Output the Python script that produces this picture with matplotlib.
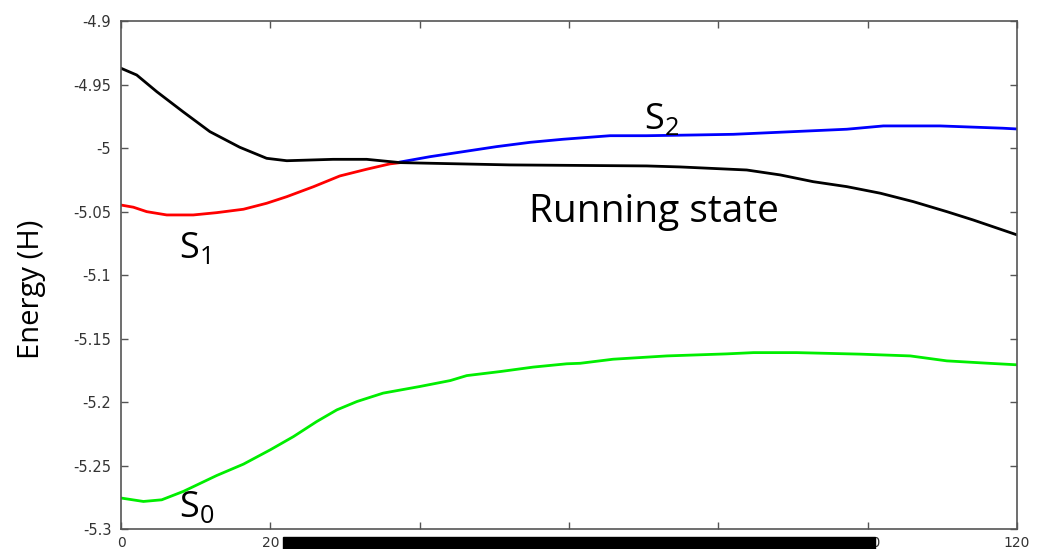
import numpy as np
import matplotlib.pyplot as plt
from matplotlib.patches import Rectangle

# values
s0_x = [0, 3.0, 5.45, 8.34, 12.8, 16.4, 20.0, 23.1, 26.2, 28.9, 31.6, 35.1, 40.0,
        44.1, 46.3, 50.8, 55.2, 59.7, 61.5, 65.9, 73.1, 81.1, 84.7, 90.5, 99.0,
        105.7, 110.6, 115.9, 120]
s0_y = [-5.2756, -5.2783, -5.2770, -5.2704, -5.2579, -5.2489, -5.2376, -5.2272,
        -5.2154, -5.2062, -5.1996, -5.1930, -5.1878, -5.1831, -5.1792, -5.1760,
        -5.1725, -5.1699, -5.1695, -5.1663, -5.1637, -5.1621, -5.1611, -5.1611,
        -5.1623, -5.1637, -5.1676, -5.1694, -5.1707]

s1_x = [0, 1.65, 3.44, 6.12, 9.68, 12.8, 16.4, 19.5, 22.2, 25.8, 29.3, 32.9, 36.0, 37.4]
s1_y = [-5.0449, -5.0466, -5.0501, -5.0527, -5.0527, -5.0509, -5.0482, -5.0435,
        -5.0383, -5.0304, -5.0220, -5.0167, -5.0125, -5.0115]

s2_x = [37.4, 41.4, 45.8, 50.3, 54.8, 59.2, 65.5, 70.4, 77.1, 82.0, 90.0, 97.2,
        102.1, 109.7, 118.1, 120]
s2_y = [-5.0110, -5.0068, -5.0029, -4.9989, -4.9955, -4.9931, -4.9903, -4.9903,
        -4.9897, -4.9892, -4.9871, -4.9852, -4.9826, -4.9826, -4.9844, -4.9850]

run_x = [0, 2.1, 4.78, 8.3, 11.9, 15.9, 19.5, 22.2, 28.4, 32.9, 37.4, 52.1, 70.4,
         74.9, 83.8, 88.3, 92.7, 97.2, 101.7, 106.1, 110.6, 114.1, 120]
run_y = [-4.9372, -4.9425, -4.9556, -4.9714, -4.9871, -4.9994, -5.0081, -5.0100,
         -5.0089, -5.0089, -5.0115, -5.0133, -5.0141, -5.0149, -5.0173, -5.0212,
         -5.0265, -5.0304, -5.0356, -5.0422, -5.0501, -5.0566, -5.0684]

x_ticks = [0, 20, 40, 60, 80, 100, 120]
y_ticks = [-5.3, -5.25, -5.2, -5.15, -5.1, -5.05, -5.0, -4.95, -4.9]
y_tick_labels = ['-5.3', '-5.25', '-5.2', '-5.15', '-5.1', '-5.05', '-5', '-4.95', '-4.9']

fig = plt.figure(figsize=(10.38, 5.49), dpi=100)
ax = fig.add_axes([0.1166, 0.0364, 0.8632, 0.9253])

ax.plot(s0_x, s0_y, color='#00ee00', lw=2)
ax.plot(s1_x, s1_y, color='#ff0000', lw=2)
ax.plot(s2_x, s2_y, color='#0000ff', lw=2)
ax.plot(run_x, run_y, color='black', lw=2)

ax.set_xlim(0, 120)
ax.set_ylim(-5.3, -4.9)
ax.set_xticks(x_ticks)
ax.set_yticks(y_ticks)
ax.set_yticklabels(y_tick_labels)
ax.tick_params(direction='in', length=5, width=1, color='#555555',
               top=True, right=True, labelsize=10.5, labelcolor='#333333', pad=7)
ax.tick_params(axis='x', labelsize=10, pad=5)
for sp in ax.spines.values():
    sp.set_color('#555555')
    sp.set_linewidth(1.2)

lab_font = 'Open Sans'
ax.set_ylabel('Energy (H)', fontsize=21, family=lab_font)
ax.yaxis.set_label_coords(-0.0837, 0.4715)

# state labels
ax.text(71.4, -5.05, 'Running state', fontsize=28, family=lab_font, ha='center', va='center')
ax.text(7.8, -5.0795, r'S$_{\mathregular{1}}$', fontsize=26, family=lab_font, ha='left', va='center')
ax.text(70.0, -4.9778, r'S$_{\mathregular{2}}$', fontsize=26, family=lab_font, ha='left', va='center')
ax.text(7.8, -5.2837, r'S$_{\mathregular{0}}$', fontsize=26, family=lab_font, ha='left', va='center')

# black bar covering part of the x tick labels
fig.patches.append(Rectangle((283 / 1038, 0), (875 - 283) / 1038, 12 / 549,
                             transform=fig.transFigure, color='black', zorder=10))

fig.savefig('out.png', dpi=100)
